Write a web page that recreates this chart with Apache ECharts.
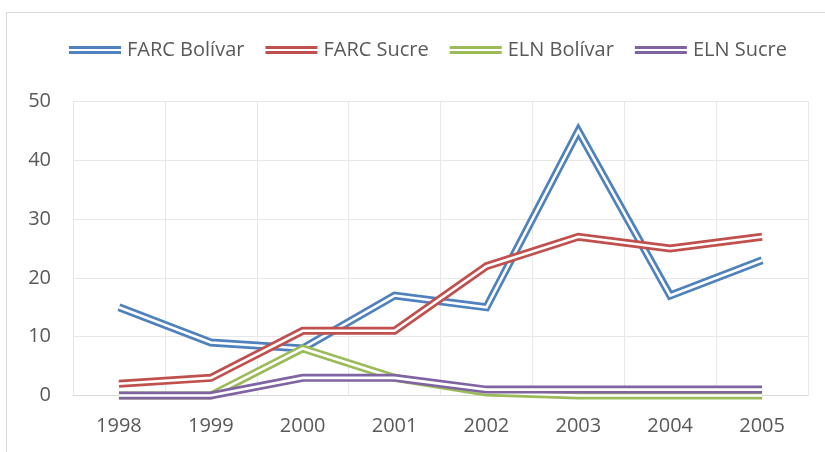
<!DOCTYPE html>
<html>
<head>
<meta charset="utf-8">
<script src="https://cdn.jsdelivr.net/npm/echarts@6/dist/echarts.min.js"></script>
<style>html,body{margin:0;padding:0;background:#fff;}#c{width:825px;height:452px;}</style>
</head>
<body>
<div id="c"></div>
<script>
const years = ['1998','1999','2000','2001','2002','2003','2004','2005'];
const farcBolivar = [15, 9, 8, 17, 15, 45, 17, 23];
const farcSucre = [2, 3, 11, 11, 22, 27, 25, 27];
const elnBolivar = [0, 0, 8, 3, 0.5, 0, 0, 0];
const elnSucre = [0, 0, 3, 3, 1, 1, 1, 1];
const seriesNames = ['FARC Bolívar', 'FARC Sucre', 'ELN Bolívar', 'ELN Sucre'];
const seriesColors = ['#4f81bd', '#c0504d', '#9bbb59', '#8064a2'];
const seriesData = [farcBolivar, farcSucre, elnBolivar, elnSucre];

const series = [];
seriesNames.forEach((name, i) => {
  series.push({
    name: name, type: 'line', data: seriesData[i], symbol: 'none', clip: false,
    color: seriesColors[i],
    lineStyle: { width: 8, color: seriesColors[i], join: 'miter', miterLimit: 30, cap: 'butt' },
    emphasis: { disabled: true }, animation: false
  });
  series.push({
    name: name + ' inner', type: 'line', data: seriesData[i], symbol: 'none', clip: false,
    lineStyle: { width: 2.6, color: '#ffffff', join: 'miter', miterLimit: 30, cap: 'butt' },
    emphasis: { disabled: true }, animation: false, silent: true
  });
});

const chart = echarts.init(document.getElementById('c'), null, { renderer: 'canvas' });
chart.setOption({
  animation: false,
  backgroundColor: '#ffffff',
  textStyle: { fontFamily: 'Open Sans' },
  graphic: [{
    type: 'rect', shape: { x: 6.5, y: 12.5, width: 830, height: 450 },
    style: { fill: 'none', stroke: '#d9d9d9', lineWidth: 1 }, silent: true
  }],
  legend: {
    data: seriesNames,
    left: 69, top: 40, padding: 0,
    icon: 'path://M0,0H52V3H0Z M0,5H52V8H0Z',
    itemWidth: 52, itemHeight: 8, itemGap: 21,
    textStyle: { fontFamily: 'Open Sans', fontSize: 20, color: '#595959', padding: [0, 0, 0, 1] }
  },
  grid: { left: 73, right: 17, top: 101.5, bottom: 56.5, containLabel: false },
  xAxis: {
    type: 'category', data: years, boundaryGap: true,
    axisLine: { show: true, lineStyle: { color: '#d9d9d9', width: 1 } },
    axisTick: { show: false },
    splitLine: { show: true, lineStyle: { color: '#e8e8e8', width: 1 } },
    axisLabel: { fontFamily: 'Open Sans', fontSize: 20, color: '#595959', margin: 21 }
  },
  yAxis: {
    type: 'value', min: 0, max: 50, interval: 10,
    axisLine: { show: false }, axisTick: { show: false },
    splitLine: { show: true, lineStyle: { color: '#e8e8e8', width: 1 } },
    axisLabel: { fontFamily: 'Open Sans', fontSize: 20, color: '#595959', margin: 22 }
  },
  series: series
});
</script>
</body>
</html>
